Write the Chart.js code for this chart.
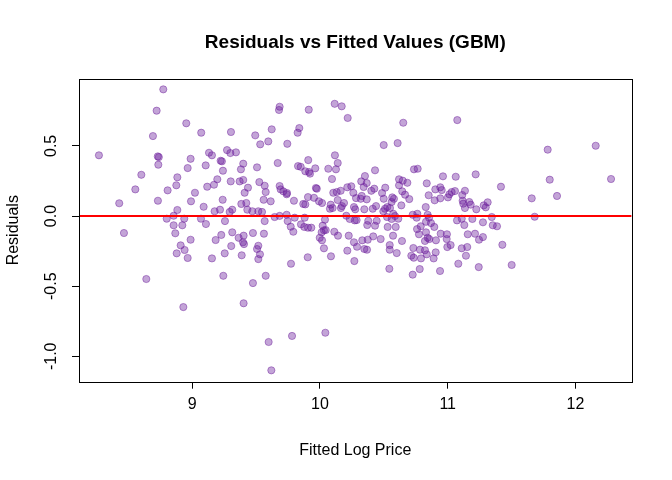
<!DOCTYPE html>
<html><head><meta charset="utf-8">
<script src="https://cdn.jsdelivr.net/npm/chart.js@4"></script>
<style>html,body{margin:0;padding:0;background:#fff}#wrap{width:672px;height:480px}</style>
</head><body><div id="wrap"><canvas id="c" width="672" height="480"></canvas></div>
<script>
const chartTitle = 'Residuals vs Fitted Values (GBM)';
const xAxisTitle = 'Fitted Log Price';
const yAxisTitle = 'Residuals';
const xTickValues = [9, 10, 11, 12];
const xTickLabels = ['9', '10', '11', '12'];
const yTickValues = [-1, -0.5, 0, 0.5];
const yTickLabels = ['-1.0', '-0.5', '0.0', '0.5'];
const xRange = [8.113, 12.440];
const yRange = [-1.181, 0.979];
const referenceLevel = 0;

const fittedValues = [
8.773,8.721,8.953,9.070,8.692,8.269,8.730,8.738,8.734,9.131,
9.154,8.987,9.105,8.964,8.601,8.883,8.875,8.554,8.807,9.021,
9.117,9.170,9.196,8.428,8.731,8.990,9.089,8.883,9.175,8.800,
8.854,8.937,9.068,8.854,8.922,9.107,8.465,8.867,8.987,9.183,
8.909,8.940,8.878,8.964,9.154,8.640,8.930,
9.684,9.679,9.912,10.115,10.170,10.217,9.303,9.493,9.622,9.838,
9.825,9.532,9.595,9.744,9.272,9.298,9.342,10.117,9.222,9.232,
9.908,9.399,9.669,10.139,9.828,9.849,9.507,9.381,9.963,10.065,
10.125,9.240,9.885,9.914,9.922,10.094,9.301,9.371,9.399,9.525,
9.567,9.684,9.692,9.968,9.975,10.245,10.214,9.436,9.410,9.575,
9.713,9.742,9.739,10.162,10.131,10.104,10.261,10.282,9.906,9.953,
9.238,9.559,9.614,9.796,9.992,10.016,10.139,10.188,10.172,10.164,
9.869,9.885,9.384,9.423,10.084,10.078,10.099,10.266,10.276,9.217,
9.313,9.293,9.431,9.470,9.517,9.546,9.645,9.684,9.739,9.802,
9.880,10.039,10.206,10.233,9.256,9.567,
9.747,9.771,9.791,9.851,9.877,9.906,9.932,10.021,10.031,10.045,
10.013,9.998,10.016,10.112,10.141,10.272,10.225,10.266,10.290,9.227,
9.313,9.363,9.402,9.397,9.405,9.475,9.561,9.305,9.517,9.507,
9.530,9.517,9.254,9.387,10.031,10.214,9.904,10.086,10.269,9.773,
9.243,9.575,9.475,9.402,9.781,10.042,9.598,9.619,
10.652,11.075,10.499,10.608,10.431,10.736,10.765,11.219,10.963,11.063,
10.352,10.323,10.366,10.342,10.619,10.648,10.684,10.619,10.836,10.425,
10.402,10.511,10.644,10.666,10.699,10.903,10.942,10.953,11.057,11.031,
11.013,11.135,11.114,10.851,10.327,10.319,10.366,10.486,10.499,10.566,
10.579,10.561,10.942,11.002,10.898,11.117,11.122,11.169,11.180,11.313,
11.282,11.298,10.637,10.828,11.135,11.224,10.347,10.413,10.439,10.509,
10.527,10.548,10.496,10.574,10.587,10.726,10.762,10.757,10.843,10.854,
11.110,11.193,11.345,10.378,10.444,10.613,
10.287,10.370,10.431,10.530,10.593,10.525,10.561,10.760,10.789,10.775,
10.830,10.869,10.895,10.830,10.843,10.822,10.856,11.073,11.130,11.276,
11.353,11.386,10.945,10.994,10.992,11.023,10.997,10.908,11.157,11.214,
11.276,11.245,10.331,10.374,10.417,10.475,10.347,10.368,10.572,10.642,
10.546,10.546,10.601,10.731,10.783,10.822,10.836,10.906,10.890,10.791,
10.715,10.734,11.110,11.153,11.143,11.083,11.243,10.543,10.781,10.940,
10.726,
11.783,12.159,11.799,12.279,11.417,11.658,11.856,11.681,11.428,11.501
];

const residualValues = [
0.903,0.751,0.661,0.594,0.570,0.433,0.425,0.420,0.366,0.451,
0.433,0.408,0.361,0.342,0.294,0.276,0.219,0.190,0.183,0.166,
0.209,0.223,0.262,0.091,0.109,0.105,0.066,0.043,0.034,-0.019,
0.002,-0.019,-0.019,-0.066,-0.066,-0.057,-0.121,-0.123,-0.169,-0.171,
-0.209,-0.242,-0.266,-0.299,-0.302,-0.449,-0.649,
0.779,0.756,0.758,0.800,0.782,0.699,0.599,0.575,0.618,0.627,
0.594,0.511,0.532,0.515,0.470,0.449,0.454,0.433,0.394,0.390,
0.399,0.373,0.378,0.378,0.356,0.351,0.347,0.333,0.340,0.337,
0.333,0.323,0.319,0.314,0.302,0.264,0.247,0.247,0.257,0.242,
0.216,0.214,0.190,0.200,0.195,0.212,0.205,0.202,0.166,0.171,
0.176,0.164,0.155,0.180,0.171,0.166,0.166,0.128,0.135,0.130,
0.116,0.116,0.105,0.109,0.105,0.093,0.114,0.093,0.071,0.057,
0.086,0.083,0.086,0.093,0.081,0.052,0.057,0.064,0.048,0.045,
0.045,0.029,0.045,0.034,0.034,0.029,-0.007,0.001,0.009,-0.012,
-0.012,-0.026,0.002,-0.021,-0.036,-0.036,
-0.036,-0.076,-0.112,-0.059,-0.078,-0.083,-0.083,-0.069,-0.102,-0.100,
-0.116,-0.155,-0.173,-0.112,-0.140,-0.031,-0.140,-0.187,-0.219,-0.135,
-0.116,-0.155,-0.140,-0.187,-0.200,-0.121,-0.126,-0.214,-0.212,-0.235,
-0.273,-0.307,-0.266,-0.280,-0.230,-0.247,-0.294,-0.287,-0.321,-0.340,
-0.426,-0.426,-0.478,-0.622,-0.855,-0.832,-0.898,-1.100,
0.665,0.684,0.506,0.520,0.326,0.333,0.337,0.297,0.283,0.280,
0.285,0.247,0.235,0.207,0.262,0.252,0.237,0.219,0.233,0.195,
0.180,0.202,0.176,0.152,0.121,0.190,0.205,0.185,0.178,0.171,
0.155,0.180,0.150,0.148,0.143,0.123,0.119,0.164,0.123,0.133,
0.123,0.100,0.126,0.133,0.112,0.109,0.088,0.100,0.081,0.098,
0.076,0.062,0.076,0.064,0.057,0.048,0.048,0.052,0.071,0.052,
0.064,0.057,0.034,0.016,0.000,0.009,0.016,-0.012,0.009,-0.012,
-0.019,-0.021,-0.007,-0.034,-0.034,-0.019,
-0.029,-0.064,-0.069,-0.078,-0.078,-0.007,-0.021,-0.093,-0.073,-0.130,
-0.041,-0.050,-0.078,-0.116,-0.155,-0.178,-0.164,-0.031,-0.064,-0.045,
-0.066,-0.073,-0.126,-0.130,-0.164,-0.207,-0.221,-0.173,-0.130,-0.126,
-0.150,-0.169,-0.173,-0.169,-0.145,-0.164,-0.235,-0.240,-0.140,-0.178,
-0.207,-0.240,-0.264,-0.228,-0.240,-0.244,-0.273,-0.259,-0.302,-0.302,
-0.283,-0.297,-0.230,-0.221,-0.283,-0.340,-0.364,-0.376,-0.378,-0.392,
-0.418,
0.473,0.501,0.259,0.264,0.209,0.126,0.143,-0.005,-0.205,-0.349
];

const FONT = '"Liberation Sans", Arial, Helvetica, sans-serif';

const decor = {
  id: 'decor',
  afterDraw(chart) {
    const ctx = chart.ctx, a = chart.chartArea, ys = chart.scales.y;
    ctx.save();
    ctx.strokeStyle = '#000';
    ctx.lineWidth = 1;
    ctx.strokeRect(Math.round(a.left) + 0.5, Math.round(a.top) + 0.5,
                   Math.round(a.right - a.left), Math.round(a.bottom - a.top));
    ctx.fillStyle = '#000';
    ctx.textAlign = 'center';
    ctx.textBaseline = 'alphabetic';
    const cx = (a.left + a.right) / 2;
    ctx.font = 'bold 19px ' + FONT;
    ctx.fillText(chartTitle, cx, 48);
    ctx.font = '16px ' + FONT;
    ctx.fillText(xAxisTitle, cx, 455);
    yTickValues.forEach((v, i) => {
      const py = ys.getPixelForValue(v);
      ctx.save();
      ctx.translate(56, py);
      ctx.rotate(-Math.PI / 2);
      ctx.fillText(yTickLabels[i], 0, 0);
      ctx.restore();
    });
    ctx.save();
    ctx.translate(18, (a.top + a.bottom) / 2);
    ctx.rotate(-Math.PI / 2);
    ctx.fillText(yAxisTitle, 0, 0);
    ctx.restore();
    ctx.restore();
  }
};

const points = fittedValues.map((v, i) => ({ x: v, y: residualValues[i] }));

new Chart(document.getElementById('c'), {
  type: 'scatter',
  data: {
    datasets: [
      {
        data: [{ x: xRange[0], y: referenceLevel }, { x: xRange[1], y: referenceLevel }],
        showLine: true,
        borderColor: '#ff0000',
        borderWidth: 2,
        pointRadius: 0,
        order: 0
      },
      {
        data: points,
        pointRadius: 3.6,
        borderWidth: 1,
        backgroundColor: 'rgba(106,27,154,0.40)',
        borderColor: 'rgba(106,27,154,0.45)',
        order: 1
      }
    ]
  },
  options: {
    responsive: false,
    animation: false,
    events: [],
    layout: { padding: { top: 78.7, right: 40.4, bottom: 0, left: 0 } },
    plugins: { legend: { display: false }, tooltip: { enabled: false }, title: { display: false } },
    scales: {
      x: {
        type: 'linear',
        min: xRange[0], max: xRange[1],
        afterBuildTicks(s) { s.ticks = xTickValues.map(v => ({ value: v })); },
        afterFit(s) { s.height = 98.3; },
        grid: { drawOnChartArea: false, drawTicks: true, tickLength: 7, color: '#000', lineWidth: 1 },
        border: { display: false },
        ticks: {
          color: '#000', padding: 6, maxRotation: 0, autoSkip: false,
          font: { size: 16, family: FONT },
          callback(v) { const i = xTickValues.indexOf(v); return i >= 0 ? xTickLabels[i] : ''; }
        }
      },
      y: {
        type: 'linear',
        min: yRange[0], max: yRange[1],
        afterBuildTicks(s) { s.ticks = yTickValues.map(v => ({ value: v })); },
        afterFit(s) { s.width = 79; },
        grid: { drawOnChartArea: false, drawTicks: true, tickLength: 7, color: '#000', lineWidth: 1 },
        border: { display: false },
        ticks: { display: false }
      }
    }
  },
  plugins: [decor]
});
</script>
</body></html>
